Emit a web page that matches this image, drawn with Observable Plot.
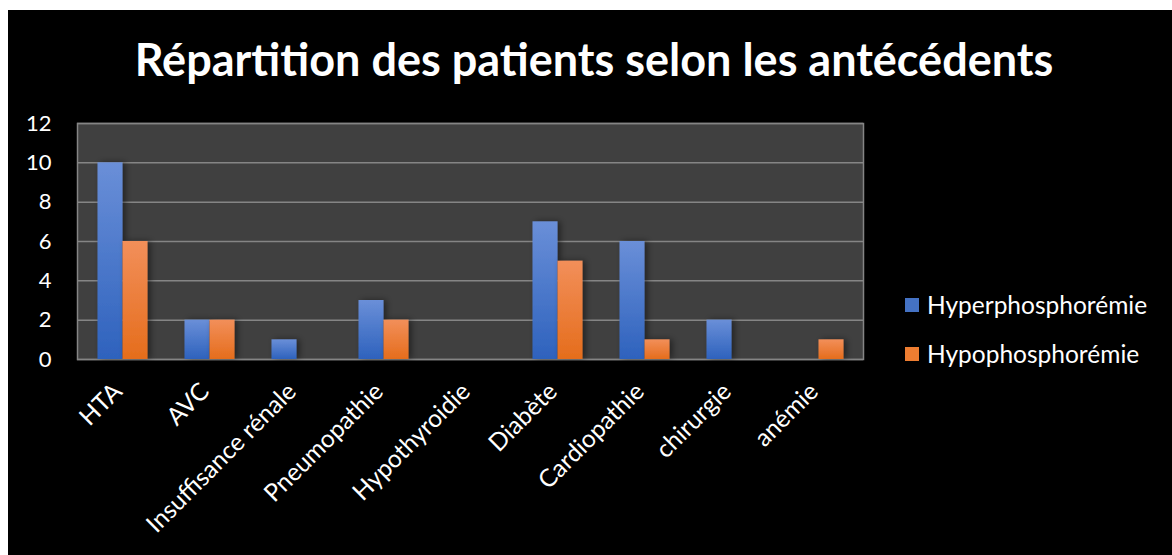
<!DOCTYPE html>
<html>
<head>
<meta charset="utf-8">
<script src="https://cdn.jsdelivr.net/npm/d3@7"></script>
<script src="https://cdn.jsdelivr.net/npm/@observablehq/plot@0.6"></script>
<style>
  html, body { margin: 0; padding: 0; background: #ffffff; }
  #chart { position: absolute; left: 8px; top: 10px; width: 1164px; height: 545px; background: #000; overflow: hidden; font-family: Lato, "Open Sans", sans-serif; color: #fff; }
  #title { position: absolute; left: 4px; top: 27px; width: 1164px; text-align: center; font-weight: 700; font-size: 45px; line-height: 1; white-space: nowrap; }
  #plot { position: absolute; left: 0; top: 93px; }
  #legend { position: absolute; left: 897px; top: 270px; font-size: 24.5px; }
  .li { display: flex; align-items: center; height: 49px; }
  .sw { width: 14px; height: 14px; margin-right: 8px; }
</style>
</head>
<body>
<div id="chart">
  <div id="title"></div>
  <div id="plot"></div>
  <div id="legend"></div>
</div>
<script>
const titleText = "Répartition des patients selon les antécédents";
const categories = ["HTA", "AVC", "Insuffisance rénale", "Pneumopathie", "Hypothyroidie", "Diabète", "Cardiopathie", "chirurgie", "anémie"];
const seriesNames = ["Hyperphosphorémie", "Hypophosphorémie"];
const hyperValues = [10, 2, 1, 3, 0, 7, 6, 2, 0];
const hypoValues = [6, 2, 0, 2, 0, 5, 1, 0, 1];
const yTicks = [0, 2, 4, 6, 8, 10, 12];
const seriesColors = ["#4472c4", "#ed7d31"];

document.getElementById("title").textContent = titleText;

const hyper = categories.map((c, i) => ({cat: c, series: seriesNames[0], value: hyperValues[i]}));
const hypo = categories.map((c, i) => ({cat: c, series: seriesNames[1], value: hypoValues[i]}));

const plot = Plot.plot({
  width: 1164,
  height: 452,
  marginLeft: 69,
  marginRight: 309,
  marginTop: 20,
  marginBottom: 196,
  style: {background: "#000", color: "#fff", fontFamily: "Lato, 'Open Sans', sans-serif", fontSize: "22px"},
  x: {domain: categories, paddingInner: 0.714, paddingOuter: 0.357},
  y: {domain: [0, 12]},
  color: {domain: seriesNames, range: ["url(#gBlue)", "url(#gOrange)"]},
  marks: [
    Plot.frame({fill: "#404040", stroke: "#858585", strokeWidth: 1.5}),
    Plot.ruleY(yTicks, {stroke: "#858585", strokeWidth: 1.5}),
    Plot.barY(hyper, {x: "cat", y: "value", fill: "series", dx: -12.5}),
    Plot.barY(hypo, {x: "cat", y: "value", fill: "series", dx: 12.5}),
    Plot.axisY({ticks: yTicks, label: null, tickSize: 0, tickPadding: 26, fontSize: 22}),
    Plot.axisX({label: null, tickSize: 0, tickPadding: 10, tickRotate: -45, fontSize: 24.5, dx: -5, dy: 18})
  ]
});

const svg = d3.select(plot);
const defs = svg.insert("defs", ":first-child");
function grad(id, top, bottom) {
  const g = defs.append("linearGradient").attr("id", id).attr("x1", 0).attr("y1", 0).attr("x2", 0).attr("y2", 1);
  g.append("stop").attr("offset", "0%").attr("stop-color", top);
  g.append("stop").attr("offset", "100%").attr("stop-color", bottom);
}
grad("gBlue", "#6a8fd8", "#2e62bd");
grad("gOrange", "#f28f5a", "#e56d1c");
const f = defs.append("filter").attr("id", "shadow").attr("x", "-50%").attr("y", "-10%").attr("width", "200%").attr("height", "120%");
f.append("feDropShadow").attr("dx", 3).attr("dy", 0).attr("stdDeviation", 3).attr("flood-color", "#000").attr("flood-opacity", 0.45);
svg.selectAll("g[aria-label='bar']").attr("filter", "url(#shadow)");

document.getElementById("plot").appendChild(plot);

const legend = document.getElementById("legend");
seriesNames.forEach((s, i) => {
  const row = document.createElement("div");
  row.className = "li";
  const sw = document.createElement("div");
  sw.className = "sw";
  sw.style.background = seriesColors[i];
  const t = document.createElement("span");
  t.textContent = s;
  row.appendChild(sw);
  row.appendChild(t);
  legend.appendChild(row);
});
</script>
</body>
</html>
